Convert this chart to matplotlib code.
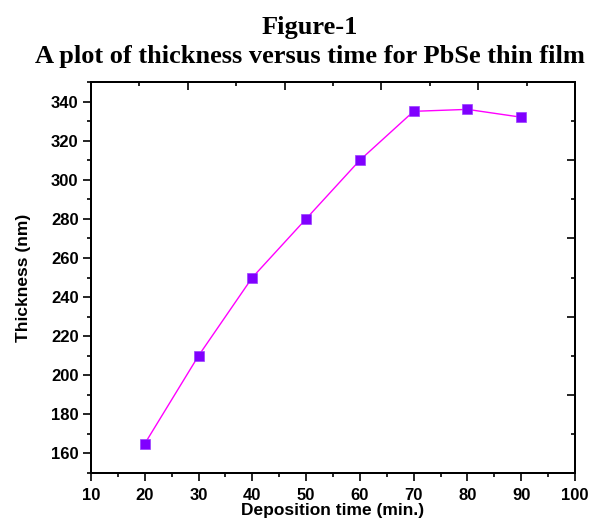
import matplotlib
matplotlib.use('Agg')
import matplotlib.pyplot as plt
from matplotlib.ticker import MultipleLocator

# deposition time (min.) and film thickness (nm)
time_min = [20, 30, 40, 50, 60, 70, 80, 90]
thickness_nm = [165, 210, 250, 280, 310, 335, 336, 332]

plt.rcParams['font.family'] = 'Liberation Sans'
plt.rcParams['font.weight'] = 'bold'

fig = plt.figure(figsize=(5.93, 5.24), dpi=100)
ax = fig.add_axes([0.1535, 0.0973, 0.816, 0.7462])

ax.plot(time_min, thickness_nm, color='#ff00ff', linewidth=1,
        marker='s', markersize=6.5, markerfacecolor='#8000ff',
        markeredgecolor='#9a40ff', markeredgewidth=0.5, zorder=3)

ax.set_xlim(10, 100)
ax.set_ylim(150, 350)
ax.xaxis.set_major_locator(MultipleLocator(10))
ax.xaxis.set_minor_locator(MultipleLocator(5))
ax.yaxis.set_major_locator(MultipleLocator(20))
ax.yaxis.set_minor_locator(MultipleLocator(10))
ax.tick_params(which='both', direction='out', top=False, right=False, width=1.2, labelsize=12)
ax.tick_params(which='major', length=6)
ax.tick_params(which='minor', length=3)
ax.tick_params(axis='x', which='major', pad=4.5)
ax.tick_params(axis='y', which='major', pad=3)
for sp in ax.spines.values():
    sp.set_linewidth(1.3)
for lbl in ax.get_xticklabels() + ax.get_yticklabels():
    lbl.set_fontweight('bold')

# top and right axes: plain inward ticks, ten divisions
ax_top = ax.twiny()
ax_top.set_xlim(0, 1)
ax_top.xaxis.set_major_locator(MultipleLocator(0.2))
ax_top.xaxis.set_minor_locator(MultipleLocator(0.1))
ax_top.tick_params(which='both', direction='in', labeltop=False, width=1.2)
ax_top.tick_params(which='major', length=6)
ax_top.tick_params(which='minor', length=3)
ax_right = ax.twinx()
ax_right.set_ylim(0, 1)
ax_right.yaxis.set_major_locator(MultipleLocator(0.2))
ax_right.yaxis.set_minor_locator(MultipleLocator(0.1))
ax_right.tick_params(which='both', direction='in', labelright=False, width=1.2)
ax_right.tick_params(which='major', length=6)
ax_right.tick_params(which='minor', length=3)
for a in (ax_top, ax_right):
    for sp in a.spines.values():
        sp.set_linewidth(1.3)

ax.set_xlabel('Deposition time (min.)', fontsize=12.5, fontweight='bold', labelpad=0.5)
ax.set_ylabel('Thickness (nm)', fontsize=12.5, fontweight='bold', labelpad=14)

fig.text(0.523, 1 - 34 / 524, 'Figure-1', ha='center', va='baseline',
         fontsize=19, fontweight='bold', family='Liberation Serif')
fig.text(0.523, 1 - 63 / 524, 'A plot of thickness versus time for PbSe thin film',
         ha='center', va='baseline', fontsize=19, fontweight='bold',
         family='Liberation Serif')

fig.savefig('out.png', dpi=100)
